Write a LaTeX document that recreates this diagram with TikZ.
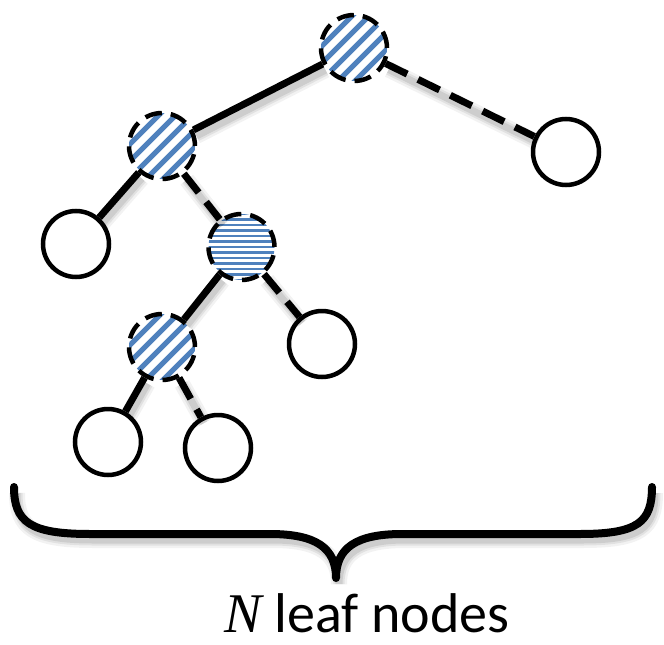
\documentclass[tikz,border=0pt]{standalone}
\usepackage{fontspec}
\setmainfont{Carlito}
\newfontfamily\varfont{Liberation Serif}
\definecolor{hatchblue}{HTML}{4F81BD}
\begin{document}
\begin{tikzpicture}[x=1pt,y=-1pt,
  treenode/.style={circle, minimum size=66pt, inner sep=0pt, line width=4.5pt, draw=black, fill=white},
  visited/.style={treenode, dash pattern=on 17pt off 9pt},
  diaghatch/.style={visited, path picture={
      \begin{scope}[shift={(path picture bounding box.center)}]
        \foreach \c in {-102,-85,...,102}
          \draw[hatchblue, line width=5pt, solid] (\c-50,50) -- (\c+50,-50);
      \end{scope}}},
  flathatch/.style={visited, path picture={
      \begin{scope}[shift={(path picture bounding box.center)}]
        \foreach \yy in {-33,-27.5,...,34}
          \draw[hatchblue, line width=2.2pt, solid] (-40,\yy) -- (40,\yy);
      \end{scope}}},
  softshadow/.style={
    preaction={draw, black, opacity=0.05, line width=16pt, transform canvas={shift={(3,6)}}},
    preaction={draw, black, opacity=0.07, line width=11pt, transform canvas={shift={(3,6)}}},
    preaction={draw, black, opacity=0.09, line width=7pt, transform canvas={shift={(3,6)}}}},
  link/.style={softshadow, line width=7pt, line cap=butt},
  dlink/.style={link, dash pattern=on 24pt off 12pt}
]
\useasboundingbox (0,0) rectangle (664,645);

% tree nodes
\node[diaghatch] (root) at (354,48) {};
\node[diaghatch] (a) at (162,146) {};
\node[treenode]  (r) at (566,152) {};
\node[treenode]  (l1) at (76,244) {};
\node[flathatch] (b) at (241.5,247) {};
\node[diaghatch] (c) at (162,347) {};
\node[treenode]  (r2) at (322,344) {};
\node[treenode]  (l2) at (108,442) {};
\node[treenode]  (l3) at (218,448) {};

% branches
\draw[link]  (root) -- (a);
\draw[dlink] (root) -- (r);
\draw[link]  (a) -- (l1);
\draw[dlink] (a) -- (b);
\draw[link]  (b) -- (c);
\draw[dlink] (b) -- (r2);
\draw[link]  (c) -- (l2);
\draw[dlink] (c) -- (l3);

% brace under the leaves
\draw[softshadow, line width=8pt, line cap=round, line join=round]
  (14,487) .. controls (14,522) and (30,534) .. (90,534) -- (270,534)
  .. controls (316,534) and (336,548) .. (336,578)
  .. controls (336,548) and (356,534) .. (402,534) -- (580,534)
  .. controls (638,534) and (652,522) .. (652,487);

\node (label) at (367,613) {\fontsize{56}{60}\selectfont{\varfont\itshape N} leaf nodes};
\end{tikzpicture}
\end{document}
